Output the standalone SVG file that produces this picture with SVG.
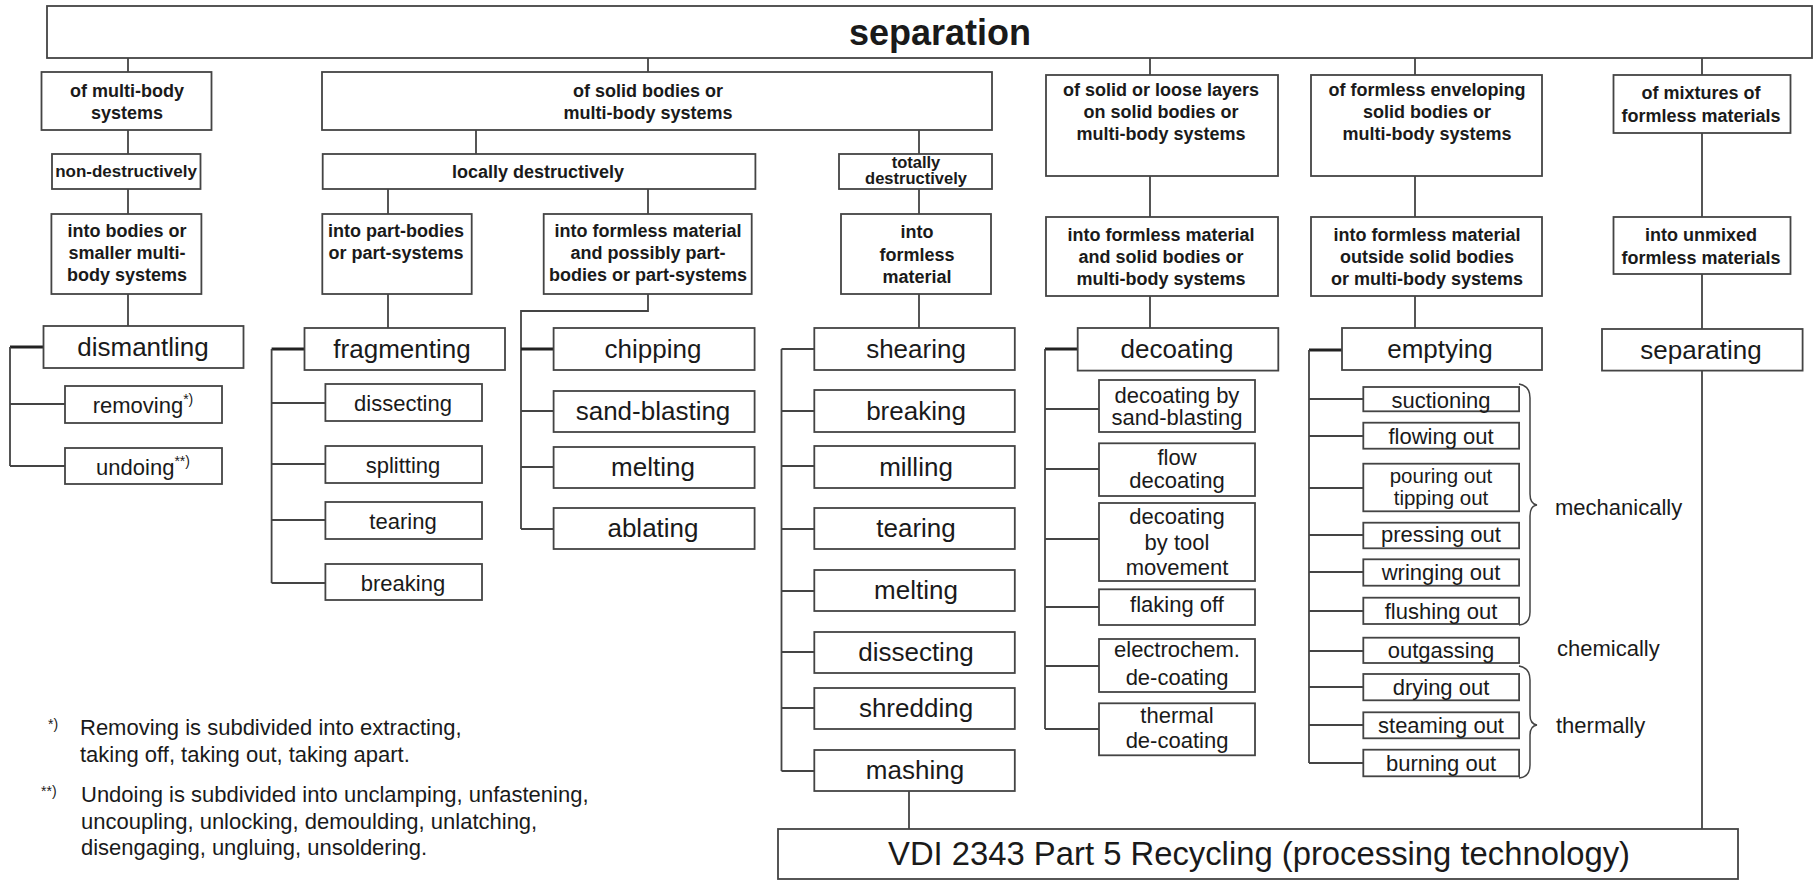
<svg xmlns="http://www.w3.org/2000/svg" width="1814" height="880" viewBox="0 0 1814 880">
<style>
rect{fill:#fff;stroke:#444;stroke-width:1.8}
text{font-family:"Liberation Sans",Arial,Helvetica,sans-serif;fill:#1a1a1a;text-anchor:middle}
.h{font-size:18px;font-weight:bold}
.hs{font-size:16.5px;font-weight:bold}
.m{font-size:26px}
.s{font-size:22px}
.l{text-anchor:start}
.sup{font-size:14px}
.c path,.c line{fill:none;stroke:#444;stroke-width:1.8}
.c .t{stroke-width:3;stroke:#222}
</style>
<rect width="1814" height="880" style="fill:#fff;stroke:none"/>
<g class="c" id="connectors">
<path d="M128,58V72M648,58V72M1150,58V75M1415,58V75M1702,58V75"/>
<path d="M128,130V154M128,189V214M128,294V326"/>
<path d="M476,130V154M919,130V154M388,189V214M648,189V214M919,189V214"/>
<path d="M388,294V328M919,294V328M1150,176V217M1150,296V328M1415,176V217M1415,296V328M1702,133V217M1702,274V329M1702,370V829"/>
<path d="M909,791V829"/>
<path class="t" d="M43.5,347H10"/>
<path d="M10,347V466M10,404H65M10,466H65"/>
<path class="t" d="M304.5,349H271.6"/>
<path d="M271.6,349V583M271.6,403H325.4M271.6,464H325.4M271.6,520H325.4M271.6,583H325.4"/>
<path d="M648,294V311H521V529"/>
<path class="t" d="M521,349H553.6"/>
<path d="M521,411H553.6M521,467H553.6M521,529H553.6"/>
<path d="M781.5,349V771M781.5,349H814.3M781.5,411H814.3M781.5,466H814.3M781.5,529H814.3M781.5,591H814.3M781.5,652H814.3M781.5,708H814.3M781.5,771H814.3"/>
<path class="t" d="M1077.7,349H1045"/>
<path d="M1045,349V729M1045,409H1099M1045,469H1099M1045,539H1099M1045,607H1099M1045,666H1099M1045,729H1099"/>
<path class="t" d="M1342,350H1309"/>
<path d="M1309,350V763M1309,399H1363M1309,436H1363M1309,488H1363M1309,535H1363M1309,572H1363M1309,611H1363M1309,651H1363M1309,687H1363M1309,725H1363M1309,763H1363"/>
<path d="M1519,384Q1530,386 1530,398V494Q1530,504 1537,505Q1530,506 1530,516V612Q1530,624 1519,625" style="stroke-width:1.5"/>
<path d="M1519,666Q1530,668 1530,680V715Q1530,724 1537,725Q1530,726 1530,735V765Q1530,777 1519,778" style="stroke-width:1.5"/>
</g>

<g id="n-separation"><rect x="47" y="6" width="1765" height="52"/><text x="940" y="45" style="font-size:36px;font-weight:bold">separation</text></g>

<g id="n-multibody"><rect x="41.5" y="72" width="170" height="58"/><text class="h" x="127"><tspan x="127" y="97">of multi-body</tspan><tspan x="127" y="119">systems</tspan></text></g>
<g id="n-solidbodies"><rect x="322" y="72" width="670" height="58"/><text class="h"><tspan x="648" y="97">of solid bodies or</tspan><tspan x="648" y="119">multi-body systems</tspan></text></g>
<g id="n-layers"><rect x="1046" y="75" width="232" height="101"/><text class="h"><tspan x="1161" y="96">of solid or loose layers</tspan><tspan x="1161" y="118">on solid bodies or</tspan><tspan x="1161" y="140">multi-body systems</tspan></text></g>
<g id="n-enveloping"><rect x="1311" y="75" width="231" height="101"/><text class="h"><tspan x="1427" y="96">of formless enveloping</tspan><tspan x="1427" y="118">solid bodies or</tspan><tspan x="1427" y="140">multi-body systems</tspan></text></g>
<g id="n-mixtures"><rect x="1613.5" y="75" width="177" height="58"/><text class="h"><tspan x="1701" y="99">of mixtures of</tspan><tspan x="1701" y="121.5">formless materials</tspan></text></g>

<g id="n-nondestr"><rect x="52" y="154" width="148.5" height="35"/><text class="h" x="126" y="177" style="font-size:17px">non-destructively</text></g>
<g id="n-locally"><rect x="322.7" y="154" width="432.7" height="35"/><text class="h" x="538" y="178">locally destructively</text></g>
<g id="n-totally"><rect x="839" y="154" width="153" height="35"/><text class="hs"><tspan x="916" y="168">totally</tspan><tspan x="916" y="184">destructively</tspan></text></g>

<g id="n-intobodies"><rect x="51.4" y="214" width="150" height="80"/><text class="h"><tspan x="127" y="237">into bodies or</tspan><tspan x="127" y="259">smaller multi-</tspan><tspan x="127" y="281">body systems</tspan></text></g>
<g id="n-partbodies"><rect x="322.3" y="214" width="149.4" height="80"/><text class="h"><tspan x="396" y="237">into part-bodies</tspan><tspan x="396" y="259">or part-systems</tspan></text></g>
<g id="n-formlesspossibly"><rect x="543.7" y="214" width="208" height="80"/><text class="h"><tspan x="648" y="237">into formless material</tspan><tspan x="648" y="259">and possibly part-</tspan><tspan x="648" y="281">bodies or part-systems</tspan></text></g>
<g id="n-intoformless"><rect x="841" y="214" width="150" height="80"/><text class="h"><tspan x="917" y="238">into</tspan><tspan x="917" y="260.5">formless</tspan><tspan x="917" y="282.5">material</tspan></text></g>
<g id="n-formlesssolid"><rect x="1046" y="217" width="232" height="79"/><text class="h"><tspan x="1161" y="241">into formless material</tspan><tspan x="1161" y="263">and solid bodies or</tspan><tspan x="1161" y="284.5">multi-body systems</tspan></text></g>
<g id="n-outside"><rect x="1311" y="217" width="231" height="79"/><text class="h"><tspan x="1427" y="241">into formless material</tspan><tspan x="1427" y="263">outside solid bodies</tspan><tspan x="1427" y="284.5">or multi-body systems</tspan></text></g>
<g id="n-unmixed"><rect x="1613.5" y="217" width="177" height="57"/><text class="h"><tspan x="1701" y="241">into unmixed</tspan><tspan x="1701" y="263.5">formless materials</tspan></text></g>

<g id="n-dismantling"><rect x="43.5" y="326" width="200" height="42"/><text class="m" x="143" y="356">dismantling</text></g>
<g id="n-removing"><rect x="65" y="386" width="157" height="37"/><text class="s" x="143" y="413">removing<tspan class="sup" dy="-9">*)</tspan></text></g>
<g id="n-undoing"><rect x="65" y="448" width="157" height="36"/><text class="s" x="143" y="475">undoing<tspan class="sup" dy="-9">**)</tspan></text></g>

<g id="n-fragmenting"><rect x="304.5" y="328" width="200.5" height="42"/><text class="m" x="402" y="358">fragmenting</text></g>
<g id="n-dissecting1"><rect x="325.4" y="384" width="156.6" height="37"/><text class="s" x="403" y="411">dissecting</text></g>
<g id="n-splitting"><rect x="325.4" y="446" width="156.6" height="37"/><text class="s" x="403" y="473">splitting</text></g>
<g id="n-tearing1"><rect x="325.4" y="502" width="156.6" height="37"/><text class="s" x="403" y="529">tearing</text></g>
<g id="n-breaking1"><rect x="325.4" y="564" width="156.6" height="36"/><text class="s" x="403" y="591">breaking</text></g>

<g id="n-chipping"><rect x="553.6" y="328" width="201" height="42"/><text class="m" x="653" y="358">chipping</text></g>
<g id="n-sandblasting"><rect x="553.6" y="391" width="201" height="41"/><text class="m" x="653" y="420">sand-blasting</text></g>
<g id="n-melting1"><rect x="553.6" y="447" width="201" height="41"/><text class="m" x="653" y="476">melting</text></g>
<g id="n-ablating"><rect x="553.6" y="508" width="201" height="41"/><text class="m" x="653" y="537">ablating</text></g>

<g id="n-shearing"><rect x="814.3" y="328" width="200.5" height="42"/><text class="m" x="916" y="358">shearing</text></g>
<g id="n-breaking2"><rect x="814.3" y="390" width="200.5" height="42"/><text class="m" x="916" y="420">breaking</text></g>
<g id="n-milling"><rect x="814.3" y="446" width="200.5" height="42"/><text class="m" x="916" y="476">milling</text></g>
<g id="n-tearing2"><rect x="814.3" y="508" width="200.5" height="41"/><text class="m" x="916" y="537">tearing</text></g>
<g id="n-melting2"><rect x="814.3" y="570" width="200.5" height="41"/><text class="m" x="916" y="599">melting</text></g>
<g id="n-dissecting2"><rect x="814.3" y="632" width="200.5" height="41"/><text class="m" x="916" y="661">dissecting</text></g>
<g id="n-shredding"><rect x="814.3" y="688" width="200.5" height="41"/><text class="m" x="916" y="717">shredding</text></g>
<g id="n-mashing"><rect x="814.3" y="750" width="200.5" height="41"/><text class="m" x="915" y="779">mashing</text></g>

<g id="n-decoating"><rect x="1077.7" y="328" width="200.6" height="42.6"/><text class="m" x="1177" y="358">decoating</text></g>
<g id="n-decsand"><rect x="1099" y="380" width="156" height="52"/><text class="s"><tspan x="1177" y="403">decoating by</tspan><tspan x="1177" y="425">sand-blasting</tspan></text></g>
<g id="n-flowdec"><rect x="1099" y="443.3" width="156" height="52.7"/><text class="s"><tspan x="1177" y="465">flow</tspan><tspan x="1177" y="488">decoating</tspan></text></g>
<g id="n-tooldec"><rect x="1099" y="503" width="156" height="78"/><text class="s"><tspan x="1177" y="524">decoating</tspan><tspan x="1177" y="550">by tool</tspan><tspan x="1177" y="575">movement</tspan></text></g>
<g id="n-flaking"><rect x="1099" y="589.3" width="156" height="35.7"/><text class="s" x="1177" y="612">flaking off</text></g>
<g id="n-electro"><rect x="1099" y="639" width="156" height="53"/><text class="s"><tspan x="1177" y="657">electrochem.</tspan><tspan x="1177" y="685">de-coating</tspan></text></g>
<g id="n-thermaldec"><rect x="1099" y="703.3" width="156" height="52"/><text class="s"><tspan x="1177" y="723">thermal</tspan><tspan x="1177" y="748">de-coating</tspan></text></g>

<g id="n-emptying"><rect x="1342" y="328" width="200" height="42"/><text class="m" x="1440" y="358">emptying</text></g>
<g id="n-suctioning"><rect x="1363.3" y="387" width="155.8" height="24.3"/><text class="s" x="1441" y="408">suctioning</text></g>
<g id="n-flowing"><rect x="1363.3" y="422.7" width="155.8" height="26"/><text class="s" x="1441" y="443.5">flowing out</text></g>
<g id="n-pouring"><rect x="1363.3" y="463.7" width="155.8" height="47.6"/><text class="s" style="font-size:20.5px"><tspan x="1441" y="482.5">pouring out</tspan><tspan x="1441" y="505">tipping out</tspan></text></g>
<g id="n-pressing"><rect x="1363.3" y="522.7" width="155.8" height="25.6"/><text class="s" x="1441" y="542">pressing out</text></g>
<g id="n-wringing"><rect x="1363.3" y="559.3" width="155.8" height="26.4"/><text class="s" x="1441" y="580">wringing out</text></g>
<g id="n-flushing"><rect x="1363.3" y="597.7" width="155.8" height="26.3"/><text class="s" x="1441" y="618.5">flushing out</text></g>
<g id="n-outgassing"><rect x="1363.3" y="637.7" width="155.8" height="25.3"/><text class="s" x="1441" y="657.5">outgassing</text></g>
<g id="n-drying"><rect x="1363.3" y="674" width="155.8" height="26.3"/><text class="s" x="1441" y="695">drying out</text></g>
<g id="n-steaming"><rect x="1363.3" y="712.3" width="155.8" height="26"/><text class="s" x="1441" y="733">steaming out</text></g>
<g id="n-burning"><rect x="1363.3" y="749.7" width="155.8" height="26.6"/><text class="s" x="1441" y="770.5">burning out</text></g>

<g id="n-separating"><rect x="1602" y="329" width="200.6" height="41.6"/><text class="m" x="1701" y="359">separating</text></g>

<g id="n-vdi"><rect x="778" y="829" width="960" height="50"/><text x="1259" y="865" style="font-size:32.8px">VDI 2343 Part 5 Recycling (processing technology)</text></g>

<g id="labels">
<text class="s l" x="1555" y="515">mechanically</text>
<text class="s l" x="1557" y="656">chemically</text>
<text class="s l" x="1556" y="733">thermally</text>
</g>

<g id="footnotes">
<text class="sup l" x="48" y="729">*)</text>
<text class="s l" x="80" y="735">Removing is subdivided into extracting,</text>
<text class="s l" x="80" y="762">taking off, taking out, taking apart.</text>
<text class="sup l" x="41" y="796">**)</text>
<text class="s l" x="81" y="802">Undoing is subdivided into unclamping, unfastening,</text>
<text class="s l" x="81" y="828.5">uncoupling, unlocking, demoulding, unlatching,</text>
<text class="s l" x="81" y="855">disengaging, ungluing, unsoldering.</text>
</g>
</svg>
